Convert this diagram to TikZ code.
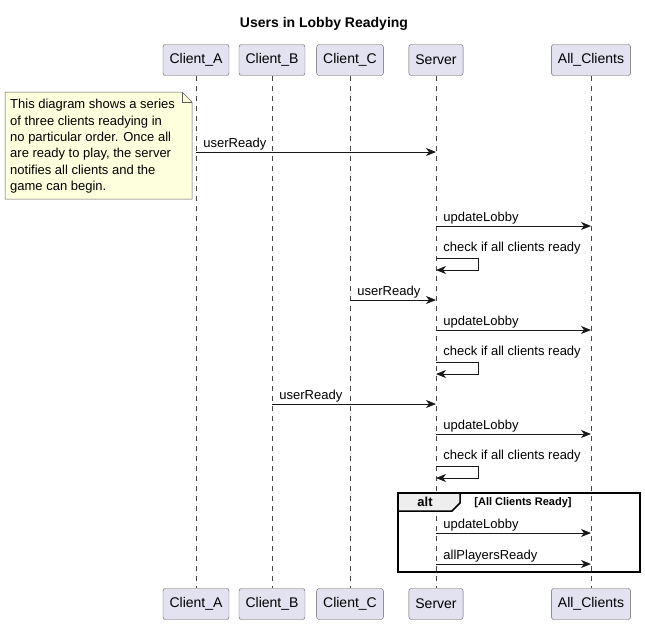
\documentclass[tikz,border=0pt]{standalone}
\usepackage{fontspec}
\setmainfont{Liberation Sans}
\usetikzlibrary{arrows.meta}

\definecolor{partFill}{HTML}{E2E2F0}
\definecolor{noteFill}{HTML}{FEFFDD}
\definecolor{lineGray}{HTML}{181818}
\definecolor{altFill}{HTML}{EEEEEE}

\begin{document}
\begin{tikzpicture}[x=1pt, y=-1pt, font=\fontsize{13}{15.5}\selectfont]
	\tikzstyle{partStyle}=[draw=lineGray!70, fill=partFill, rounded corners=2.5pt, minimum height=31pt, inner xsep=6.5pt, font=\fontsize{14}{16}\selectfont]
	\tikzstyle{lifeStyle}=[draw=lineGray!80, line width=0.5pt, dash pattern=on 5pt off 5pt]
	\tikzstyle{msgStyle}=[draw=lineGray, line width=0.9pt, -{Stealth[length=10pt, width=8pt, inset=3pt]}]
	\tikzstyle{labelStyle}=[pos=0, anchor=base west, inner sep=0pt, xshift=7pt, yshift=5pt]
	\useasboundingbox (0,0) rectangle (645,624);
	\node[font=\fontsize{14}{16}\bfseries] (title) at (324,24) {Users in Lobby Readying};
	% participants
	\node[partStyle] (pA) at (196,60) {Client\_A};
	\node[partStyle] (pB) at (272,60) {Client\_B};
	\node[partStyle] (pC) at (350,60) {Client\_C};
	\node[partStyle] (pS) at (436,60) {Server};
	\node[partStyle] (pL) at (591,60) {All\_Clients};
	\node[partStyle] (qA) at (196,604) {Client\_A};
	\node[partStyle] (qB) at (272,604) {Client\_B};
	\node[partStyle] (qC) at (350,604) {Client\_C};
	\node[partStyle] (qS) at (436,604) {Server};
	\node[partStyle] (qL) at (591,604) {All\_Clients};
	\foreach \p in {A,B,C,S,L}
		\draw[lifeStyle] (p\p.south) -- (q\p.north);
	% note
	\draw[draw=lineGray!70, fill=noteFill, line width=0.5pt] (5,92) -- (182,92) -- (192,102) -- (192,199) -- (5,199) -- cycle;
	\draw[draw=lineGray!70, line width=0.5pt] (182,92) -- (182,102) -- (192,102);
	\node[anchor=north west, inner sep=0pt, align=left, font=\fontsize{13}{16.4}\selectfont] (note) at (10,99) {This diagram shows a series\\of three clients readying in\\no particular order. Once all\\are ready to play, the server\\notifies all clients and the\\game can begin.};
	% userReady messages
	\coordinate (a1) at (196,152);
	\coordinate (s1) at (436,152);
	\coordinate (c1) at (350,300);
	\coordinate (s2) at (436,300);
	\coordinate (b1) at (272,404);
	\coordinate (s3) at (436,404);
	\draw[msgStyle] (a1) -- node[labelStyle] {userReady} (s1);
	\draw[msgStyle] (c1) -- node[labelStyle] {userReady} (s2);
	\draw[msgStyle] (b1) -- node[labelStyle] {userReady} (s3);
	% lobby updates and checks
	\foreach \u [count=\i] in {226,330,434} {
		\coordinate (u\i) at (436,\u);
		\coordinate (v\i) at (591,\u);
		\coordinate (k\i) at (436,\u+32);
		\coordinate (j\i) at (436,\u+44);
		\draw[msgStyle] (u\i) -- node[labelStyle] {updateLobby} (v\i);
		\draw[msgStyle] (k\i) -- node[labelStyle, yshift=1.5pt] {check if all clients ready} ++(42,0) |- (j\i);
	}
	% alt fragment
	\draw[line width=1.5pt, fill=altFill] (398,493) -- (460,493) -- (460,503) -- (452,511) -- (398,511) -- cycle;
	\draw[line width=1.5pt] (398,493) rectangle (640,572);
	\node[font=\fontsize{13}{15}\bfseries] (altTag) at (425,502) {alt};
	\node[font=\fontsize{11}{13}\bfseries] (altCond) at (523,503) {[All Clients Ready]};
	\coordinate (u4) at (436,533);
	\coordinate (v4) at (591,533);
	\coordinate (u5) at (436,564);
	\coordinate (v5) at (591,564);
	\draw[msgStyle] (u4) -- node[labelStyle] {updateLobby} (v4);
	\draw[msgStyle] (u5) -- node[labelStyle] {allPlayersReady} (v5);
\end{tikzpicture}
\end{document}
